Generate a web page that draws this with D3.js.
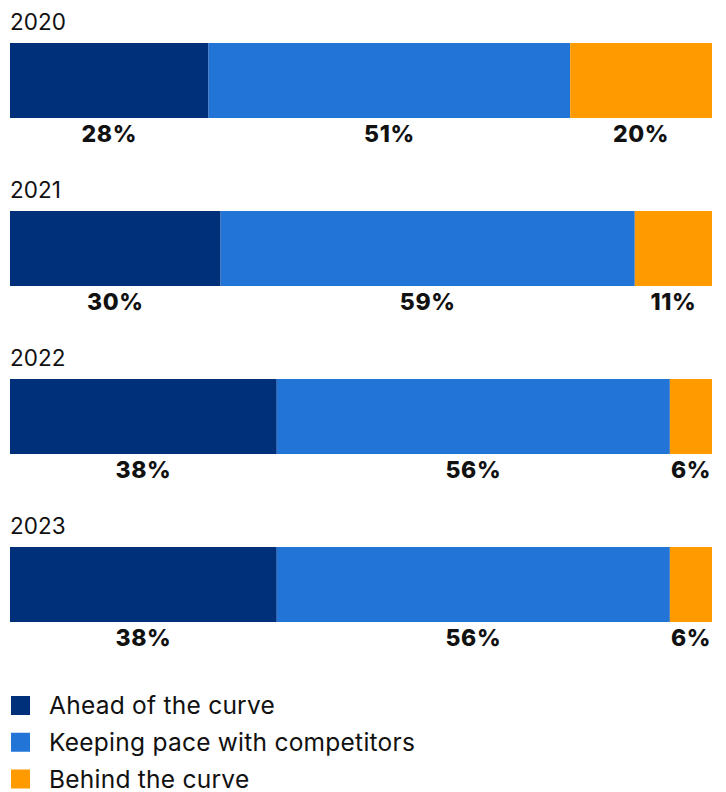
<!DOCTYPE html>
<html>
<head>
<meta charset="utf-8">
<script src="https://cdn.jsdelivr.net/npm/d3@7"></script>
<style>
  html, body { margin: 0; padding: 0; background: #fff; }
  svg { display: block; font-family: Inter, "Noto Sans", sans-serif; }
</style>
</head>
<body>
<svg id="chart" width="726" height="792"></svg>
<script>
// Survey results by year, in percent
const years = ["2020", "2021", "2022", "2023"];
const seriesNames = ["Ahead of the curve", "Keeping pace with competitors", "Behind the curve"];
const ahead = [28, 30, 38, 38];
const keepingPace = [51, 59, 56, 56];
const behind = [20, 11, 6, 6];
const colors = ["#00307a", "#2275d7", "#ff9a00"];

const rows = years.map((y, i) => ({ year: y, values: [ahead[i], keepingPace[i], behind[i]] }));

const svg = d3.select("#chart");
const left = 10, right = 712;
const rowStep = 168, barTop0 = 43, barH = 75;

const color = d3.scaleOrdinal().domain(seriesNames).range(colors);
const rowY = d3.scaleBand().domain(years).range([barTop0, barTop0 + rowStep * years.length]).paddingInner(0).paddingOuter(0);

rows.forEach(row => {
  const total = d3.sum(row.values);
  const x = d3.scaleLinear().domain([0, total]).range([left, right]);
  const y0 = rowY(row.year);
  const g = svg.append("g");

  g.append("text")
    .attr("x", 10).attr("y", y0 - 13)
    .attr("font-size", 22.5).attr("fill", "#111")
    .text(row.year);

  let acc = 0;
  const segs = row.values.map((v, k) => {
    const s = { name: seriesNames[k], v, start: acc, end: acc + v };
    acc += v;
    return s;
  });

  g.selectAll("rect").data(segs).join("rect")
    .attr("x", d => x(d.start))
    .attr("y", y0)
    .attr("width", d => x(d.end) - x(d.start))
    .attr("height", barH)
    .attr("fill", d => color(d.name));

  g.selectAll("text.val").data(segs).join("text")
    .attr("class", "val")
    .attr("x", d => (x(d.start) + x(d.end)) / 2)
    .attr("y", y0 + barH + 24)
    .attr("text-anchor", "middle")
    .attr("font-size", 23).attr("font-weight", 800).attr("fill", "#111")
    .attr("letter-spacing", 0.6)
    .text(d => d.v + "%");
});

// Legend
const legend = svg.append("g");
const legY = d3.scalePoint().domain(seriesNames).range([705.5, 779]);
seriesNames.forEach(name => {
  const cy = legY(name);
  legend.append("rect")
    .attr("x", 11).attr("y", cy - 9.5)
    .attr("width", 19).attr("height", 19)
    .attr("fill", color(name));
  legend.append("text")
    .attr("x", 49).attr("y", cy + 8.5)
    .attr("font-size", 24.5).attr("fill", "#111")
    .attr("letter-spacing", 0.25)
    .text(name);
});
</script>
</body>
</html>
